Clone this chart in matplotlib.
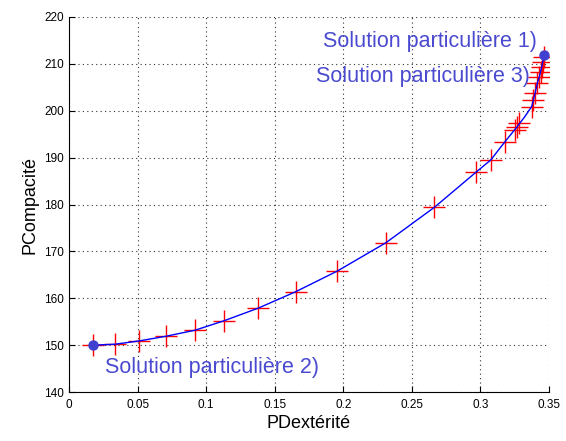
import matplotlib
matplotlib.use("Agg")
import matplotlib.pyplot as plt

# Pareto front (blue curve)
front_x = [0.0175, 0.0335, 0.051, 0.0707, 0.092, 0.113, 0.138, 0.1653, 0.1956,
           0.2311, 0.2664, 0.2968, 0.3075, 0.3179, 0.3265, 0.3320, 0.3374, 0.3398,
           0.3415, 0.3430, 0.3447, 0.3464]
front_y = [150.0, 150.2, 150.9, 151.9, 153.2, 155.2, 157.9, 161.4, 165.8,
           171.85, 179.4, 186.9, 189.5, 193.4, 196.5, 198.6, 200.9, 203.7,
           205.9, 207.3, 209.4, 211.8]

# Sampled solutions (red crosses)
samp_x = [0.0175, 0.0335, 0.051, 0.0707, 0.092, 0.113, 0.138, 0.1653, 0.1956,
          0.2311, 0.2664, 0.2968, 0.3075, 0.3179, 0.3250, 0.3265, 0.3280, 0.3374,
          0.3386, 0.3398, 0.3415, 0.3430, 0.3440, 0.3447, 0.3454, 0.3464]
samp_y = [150.0, 150.2, 150.9, 151.9, 153.2, 155.2, 157.9, 161.4, 165.8,
          171.85, 179.4, 186.9, 189.5, 193.4, 195.8, 196.5, 197.3, 200.9,
          202.3, 203.7, 205.9, 207.3, 208.3, 209.4, 210.5, 211.5]

# Particular solutions (blue dots)
sol_x = [0.3464, 0.0175]
sol_y = [211.8, 150.0]

labels = ["Solution particulière 1)", "Solution particulière 3)", "Solution particulière 2)"]
label_x = [0.185, 0.180, 0.026]
label_y = [214.7, 207.4, 145.3]

x_ticks = [0, 0.05, 0.1, 0.15, 0.2, 0.25, 0.3, 0.35]
x_tick_labels = ["0", "0.05", "0.1", "0.15", "0.2", "0.25", "0.3", "0.35"]
y_ticks = [140, 150, 160, 170, 180, 190, 200, 210, 220]

plt.rcParams['font.family'] = ['Liberation Sans', 'DejaVu Sans']

fig = plt.figure(figsize=(5.66, 4.41), dpi=100)
ax = fig.add_axes([0.1219, 0.111, 0.8481, 0.8505])

ax.plot(front_x, front_y, color='#0000ff', lw=1.0, zorder=3)
ax.plot(samp_x, samp_y, linestyle='none', marker='+', markersize=16,
        markeredgewidth=1.0, color='#ff0000', zorder=2)
ax.plot(sol_x, sol_y, linestyle='none', marker='o', markersize=6.5,
        color='#4040d0', zorder=4)

for t, x, y in zip(labels, label_x, label_y):
    ax.text(x, y, t, color='#4a4ad0', fontsize=15.5, ha='left', va='center', zorder=5)

ax.set_xlim(0, 0.35)
ax.set_ylim(140, 220)
ax.set_xticks(x_ticks)
ax.set_xticklabels(x_tick_labels)
ax.set_yticks(y_ticks)
ax.tick_params(direction='in', labelsize=8.5, length=4, width=0.8, colors='black')
ax.tick_params(axis='x', pad=5)
ax.grid(True, linestyle=(0, (1, 3)), color='#333333', linewidth=0.8)
ax.set_axisbelow(True)
for s in ['top', 'right']:
    ax.spines[s].set_visible(False)
for s in ['left', 'bottom']:
    ax.spines[s].set_linewidth(0.8)

ax.set_xlabel("PDextérité", fontsize=13, labelpad=3)
ax.set_ylabel("PCompacité", fontsize=13)

fig.savefig("out.png", dpi=100)
